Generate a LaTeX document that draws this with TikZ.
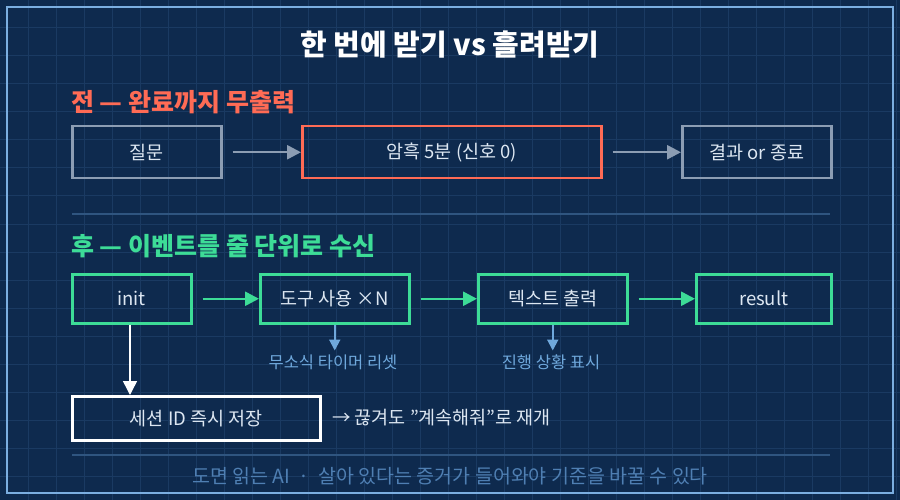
\documentclass[tikz,border=0pt]{standalone}
\usepackage{fontspec}
\setmainfont{Noto Sans CJK KR}
\usetikzlibrary{arrows.meta}
\definecolor{bg}{HTML}{0E2A4E}
\definecolor{grid}{HTML}{1A3A62}
\definecolor{frame}{HTML}{7BAEE0}
\definecolor{gry}{HTML}{8C9DB3}
\definecolor{red}{HTML}{FF6B55}
\definecolor{grn}{HTML}{3DDC97}
\definecolor{blu}{HTML}{6FA8DC}
\definecolor{sep}{HTML}{2F5580}
\definecolor{txt}{HTML}{DDE7F2}
\definecolor{foot}{HTML}{4F7FB3}
\begin{document}
\begin{tikzpicture}[x=1pt,y=-1pt,
  box/.style={draw,line width=2.5pt,text=txt,font=\fontsize{18.5}{20}\selectfont,anchor=north west,inner sep=0pt},
  arr/.style={line width=2.5pt,-{Triangle[length=14pt,width=14pt]}},
  sarr/.style={line width=2pt,blu,-{Triangle[length=11pt,width=11pt]}}]
\fill[bg] (0,0) rectangle (900,500);
\useasboundingbox (0,0) rectangle (900,500);
\foreach \x in {28,56,...,896} \draw[grid,line width=1pt] (\x,0) -- (\x,500);
\foreach \y in {28,56,...,496} \draw[grid,line width=1pt] (0,\y) -- (900,\y);
\draw[frame,line width=2pt] (7,7) rectangle (893,493);
\node[text=white,font=\bfseries\fontsize{29}{32}\selectfont] (title) at (450,45) {한 번에 받기 vs 흘려받기};
\node[text=red,font=\bfseries\fontsize{25}{28}\selectfont,anchor=west,inner sep=0pt] (h1) at (71,102) {전 — 완료까지 무출력};
\node[box,gry,minimum width=149pt,minimum height=52pt,text=txt] (q) at (71,125) {질문};
\node[box,red,minimum width=299pt,minimum height=52pt,text=txt] (dark) at (301,125) {암흑 5분 (신호 0)};
\node[box,gry,minimum width=149pt,minimum height=52pt,text=txt] (res) at (681,125) {결과 or 종료};
\draw[arr,gry] (q.east)++(10,0) coordinate (a1) -- (dark.west);
\draw[arr,gry] (dark.east)++(10,0) coordinate (a2) -- (res.west);
\coordinate (s1a) at (72,214); \coordinate (s1b) at (830,214);
\draw[sep,line width=1.5pt] (s1a) -- (s1b);
\node[text=grn,font=\bfseries\fontsize{25}{28}\selectfont,anchor=west,inner sep=0pt] (h2) at (71,246) {후 — 이벤트를 줄 단위로 수신};
\node[box,grn,minimum width=119pt,minimum height=49pt,text=txt] (init) at (71,273) {init};
\node[box,grn,minimum width=149pt,minimum height=49pt,text=txt] (tool) at (259,273) {도구 사용 ×N};
\node[box,grn,minimum width=149pt,minimum height=49pt,text=txt] (text) at (477,273) {텍스트 출력};
\node[box,grn,minimum width=135pt,minimum height=49pt,text=txt] (result) at (695,273) {result};
\draw[arr,grn] (init.east)++(10,0) coordinate (b1) -- (tool.west);
\draw[arr,grn] (tool.east)++(10,0) coordinate (b2) -- (text.west);
\draw[arr,grn] (text.east)++(10,0) coordinate (b3) -- (result.west);
\node[text=blu,font=\fontsize{16.5}{18}\selectfont] (l1) at (333,362) {무소식 타이머 리셋};
\node[text=blu,font=\fontsize{16.5}{18}\selectfont] (l2) at (551,362) {진행 상황 표시};
\draw[sarr] (tool.south) -- ++(0,26) coordinate (e1);
\draw[sarr] (text.south) -- ++(0,26) coordinate (e2);
\node[box,white,minimum width=248pt,minimum height=44pt,text=txt] (sess) at (71,395) {세션 ID 즉시 저장};
\draw[line width=1.5pt,white,-{Triangle[length=14pt,width=14pt]}] (init.south -| 130,0) -- (sess.north -| 130,0);
\node[text=txt,font=\fontsize{18.5}{20}\selectfont,anchor=west,inner sep=0pt] (note) at (332,418) {→ 끊겨도 \symbol{34}계속해줘\symbol{34}로 재개};
\coordinate (s2a) at (72,455); \coordinate (s2b) at (830,455);
\draw[sep,line width=1.5pt] (s2a) -- (s2b);
\node[text=foot,font=\fontsize{19.5}{22}\selectfont] (foot) at (450,476) {도면 읽는 AI \ · \ 살아 있다는 증거가 들어와야 기준을 바꿀 수 있다};
\end{tikzpicture}
\end{document}
